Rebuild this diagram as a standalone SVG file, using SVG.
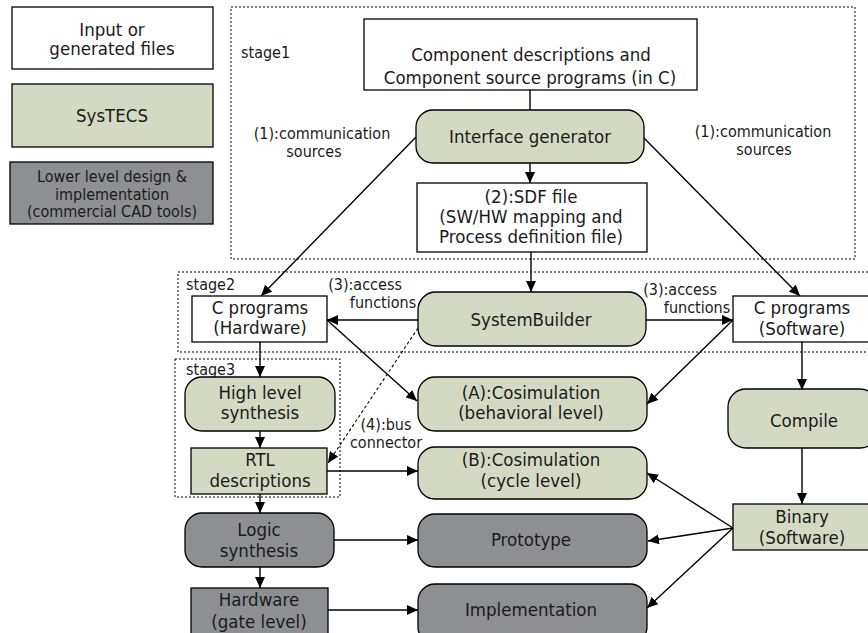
<svg xmlns="http://www.w3.org/2000/svg" width="868" height="633" viewBox="0 0 868 633">
<style>
.box{stroke:#000;stroke-width:1.3}
.w{fill:#fff}
.g{fill:#d4d9c4}
.d{fill:#8e8f93}
.stage{fill:none;stroke:#000;stroke-width:1;stroke-dasharray:2 2}
text{font-family:"DejaVu Sans Condensed","DejaVu Sans",sans-serif;font-stretch:condensed;fill:#1a1a1a;text-anchor:middle}
.L{font-size:18.5px}
.S{font-size:16px}
.lft{text-anchor:start}
.c{fill:none;stroke:#000;stroke-width:1.4}
.dash{stroke-dasharray:3 2.5;stroke-width:1.1}
</style>
<defs>
<marker id="ah" markerUnits="userSpaceOnUse" markerWidth="12" markerHeight="10" refX="11" refY="5" orient="auto">
<path d="M0,0 L11,5 L0,10 z" fill="#000"/>
</marker>
</defs>

<g id="legend">
<g id="legend-files"><rect class="box w" x="12" y="7" width="201" height="62"/><text class="L" x="112" y="36">Input or</text><text class="L" x="112" y="55">generated files</text></g>
<g id="legend-systecs"><rect class="box g" x="12" y="84" width="201" height="63"/><text class="L" x="112" y="122">SysTECS</text></g>
<g id="legend-lower"><rect class="box d" x="10" y="162" width="203" height="62"/><text class="S" x="112" y="182">Lower level design &amp;</text><text class="S" x="112" y="199.5">implementation</text><text class="S" x="112" y="217">(commercial CAD tools)</text></g>
</g>

<g id="stages">
<rect class="stage" x="231" y="7" width="624" height="252"/>
<text class="S lft" x="241" y="58">stage1</text>
<rect class="stage" x="178" y="272" width="694" height="80"/>
<text class="S lft" x="186" y="290">stage2</text>
<rect class="stage" x="175" y="359" width="165" height="138"/>
<text class="S lft" x="186" y="375">stage3</text>
</g>

<g id="connectors">
<line class="c" x1="530" y1="90" x2="530" y2="110"/>
<line class="c" x1="530" y1="163" x2="530" y2="183" marker-end="url(#ah)"/>
<line class="c" x1="531" y1="252" x2="531" y2="292" marker-end="url(#ah)"/>
<line class="c" x1="416" y1="137" x2="261" y2="296" marker-end="url(#ah)"/>
<line class="c" x1="643" y1="137" x2="800" y2="296" marker-end="url(#ah)"/>
<line class="c" x1="418" y1="320" x2="327" y2="320" marker-end="url(#ah)"/>
<line class="c" x1="646" y1="320" x2="733" y2="320" marker-end="url(#ah)"/>
<line class="c" x1="327" y1="320" x2="417" y2="401" marker-end="url(#ah)"/>
<line class="c" x1="733" y1="320" x2="647" y2="404" marker-end="url(#ah)"/>
<line class="c dash" x1="418" y1="328" x2="328" y2="463" marker-end="url(#ah)"/>
<line class="c" x1="260" y1="342" x2="260" y2="377" marker-end="url(#ah)"/>
<line class="c" x1="260" y1="431" x2="260" y2="448" marker-end="url(#ah)"/>
<line class="c" x1="260" y1="494" x2="260" y2="513" marker-end="url(#ah)"/>
<line class="c" x1="260" y1="567" x2="260" y2="588" marker-end="url(#ah)"/>
<line class="c" x1="327" y1="471" x2="418" y2="471" marker-end="url(#ah)"/>
<line class="c" x1="334" y1="540" x2="418" y2="540" marker-end="url(#ah)"/>
<line class="c" x1="328" y1="610" x2="418" y2="610" marker-end="url(#ah)"/>
<line class="c" x1="802" y1="342" x2="802" y2="390" marker-end="url(#ah)"/>
<line class="c" x1="802" y1="448" x2="802" y2="504" marker-end="url(#ah)"/>
<line class="c" x1="733" y1="528" x2="647" y2="473" marker-end="url(#ah)"/>
<line class="c" x1="733" y1="528" x2="648" y2="541" marker-end="url(#ah)"/>
<line class="c" x1="733" y1="528" x2="647" y2="608" marker-end="url(#ah)"/>
</g>

<g id="connector-labels">
<text class="S" x="322" y="139">(1):communication</text>
<text class="S" x="314" y="157">sources</text>
<text class="S" x="763" y="137">(1):communication</text>
<text class="S" x="764" y="155">sources</text>
<text class="S" x="365" y="290">(3):access</text>
<text class="S" x="383" y="308">functions</text>
<text class="S" x="680" y="295">(3):access</text>
<text class="S" x="697" y="313">functions</text>
<text class="S" x="386" y="430">(4):bus</text>
<text class="S" x="386" y="448">connector</text>
</g>

<g id="component"><rect class="box w" x="364" y="19" width="333" height="71"/><text class="L" x="531" y="61">Component descriptions and</text><text class="L" x="530" y="84">Component source programs (in C)</text></g>
<g id="interface-generator"><rect class="box g" x="416" y="110" width="228" height="53" rx="17"/><text class="L" x="530" y="143">Interface generator</text></g>
<g id="sdf"><rect class="box w" x="417" y="183" width="230" height="69"/><text class="L" x="531" y="203">(2):SDF file</text><text class="L" x="531" y="223">(SW/HW mapping and</text><text class="L" x="531" y="243">Process definition file)</text></g>
<g id="cprog-hw"><rect class="box w" x="192" y="296" width="135" height="46"/><text class="L" x="260" y="314">C programs</text><text class="L" x="260" y="334">(Hardware)</text></g>
<g id="systembuilder"><rect class="box g" x="418" y="292" width="228" height="54" rx="18"/><text class="L" x="531" y="326">SystemBuilder</text></g>
<g id="cprog-sw"><rect class="box w" x="733" y="296" width="140" height="46"/><text class="L" x="802" y="314">C programs</text><text class="L" x="802" y="335">(Software)</text></g>
<g id="hls"><rect class="box g" x="185" y="377" width="150" height="54" rx="17"/><text class="L" x="260" y="399">High level</text><text class="L" x="260" y="419">synthesis</text></g>
<g id="rtl"><rect class="box g" x="191" y="448" width="136" height="46"/><text class="L" x="260" y="466">RTL</text><text class="L" x="260" y="487">descriptions</text></g>
<g id="logic-synthesis"><rect class="box d" x="185" y="513" width="149" height="54" rx="17"/><text class="L" x="259" y="536">Logic</text><text class="L" x="259" y="557">synthesis</text></g>
<g id="hardware-gate"><rect class="box d" x="191" y="588" width="137" height="50"/><text class="L" x="259" y="606">Hardware</text><text class="L" x="259" y="628">(gate level)</text></g>
<g id="cosim-a"><rect class="box g" x="418" y="377" width="229" height="54" rx="17"/><text class="L" x="531" y="399">(A):Cosimulation</text><text class="L" x="531" y="419">(behavioral level)</text></g>
<g id="cosim-b"><rect class="box g" x="418" y="447" width="229" height="52" rx="17"/><text class="L" x="531" y="466">(B):Cosimulation</text><text class="L" x="531" y="487">(cycle level)</text></g>
<g id="prototype"><rect class="box d" x="418" y="514" width="229" height="53" rx="17"/><text class="L" x="531" y="546">Prototype</text></g>
<g id="implementation"><rect class="box d" x="418" y="584" width="229" height="60" rx="17"/><text class="L" x="531" y="616">Implementation</text></g>
<g id="compile"><rect class="box g" x="728" y="389" width="150" height="59" rx="18"/><text class="L" x="804" y="427">Compile</text></g>
<g id="binary"><rect class="box g" x="733" y="504" width="140" height="46"/><text class="L" x="802" y="523">Binary</text><text class="L" x="802" y="544">(Software)</text></g>
</svg>
